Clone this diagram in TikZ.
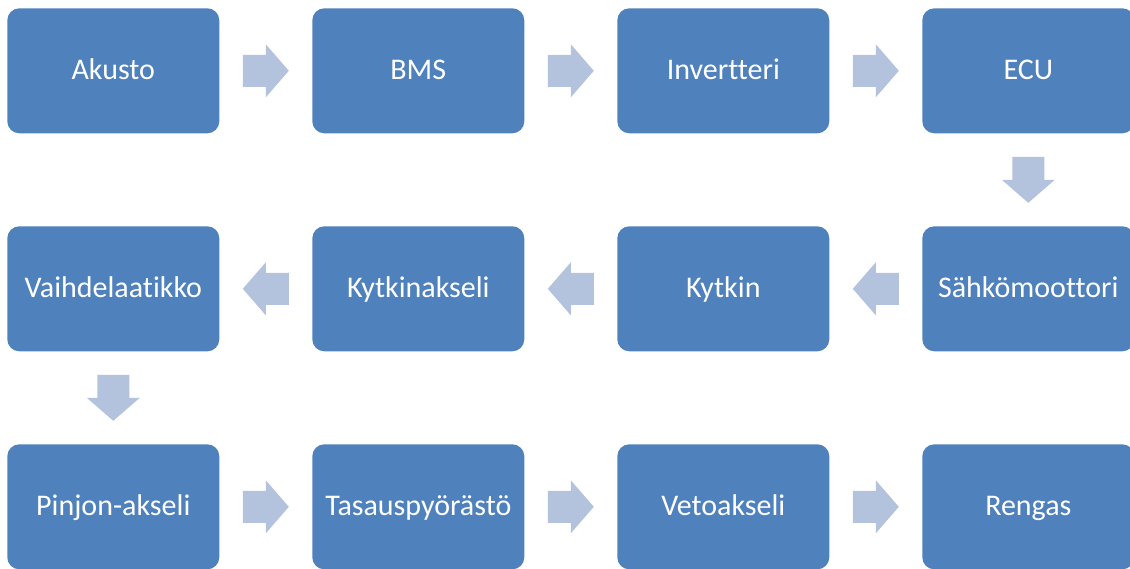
\documentclass[tikz,border=0pt]{standalone}
\usepackage{fontspec}
\setmainfont{Carlito}[Ligatures=NoCommon]
\usetikzlibrary{calc}
\definecolor{boxblue}{HTML}{4F81BD}
\definecolor{arrowblue}{HTML}{B3C2DD}
\tikzset{
  stage/.style={fill=boxblue, draw=none, rounded corners=12pt,
    minimum width=212pt, minimum height=125pt, inner sep=0pt,
    text height=17pt, text depth=0pt,
    text=white, font=\fontsize{30}{34}\selectfont},
  blockarrow/.style={fill=arrowblue, draw=none}
}
% block arrow centred at #2 (head base), pointing in direction #1 (degrees)
\newcommand\flowarrow[2]{%
  \fill[blockarrow, shift={(#2)}, rotate=#1]
    (-23,-16) -- (0,-16) -- (0,-26.5) -- (23,0) -- (0,26.5) -- (0,16) -- (-23,16) -- cycle;}
\begin{document}
\begin{tikzpicture}[x=1pt, y=-1pt]
  \useasboundingbox (0,0) rectangle (1130,568);
  \clip (0,0) rectangle (1130,568);
  % first row
  \node[stage] (akusto)  at (113.3,70.8)  {Akusto};
  \node[stage] (bms)     at (418.3,70.8)  {BMS};
  \node[stage] (inv)     at (723.3,70.8)  {Invertteri};
  \node[stage] (ecu)     at (1028.3,70.8) {ECU};
  % second row
  \node[stage] (vaihde)  at (113.3,288.8)  {Vaihdelaatikko};
  \node[stage] (kakseli) at (418.3,288.8)  {Kytkinakseli};
  \node[stage] (kytkin)  at (723.3,288.8)  {Kytkin};
  \node[stage] (moottori) at (1028.3,288.8) {Sähkömoottori};
  % third row
  \node[stage] (pinjon)  at (113.3,506.8)  {Pinjon-akseli};
  \node[stage] (tasaus)  at (418.3,506.8)  {Tasauspyörästö};
  \node[stage] (veto)    at (723.3,506.8)  {Vetoakseli};
  \node[stage] (rengas)  at (1028.3,506.8) {Rengas};
  % arrows
  \flowarrow{0}{$(akusto.east)!0.5!(bms.west)$}
  \flowarrow{0}{$(bms.east)!0.5!(inv.west)$}
  \flowarrow{0}{$(inv.east)!0.5!(ecu.west)$}
  \flowarrow{-90}{$(ecu.south)!0.5!(moottori.north)$}
  \flowarrow{180}{$(moottori.west)!0.5!(kytkin.east)$}
  \flowarrow{180}{$(kytkin.west)!0.5!(kakseli.east)$}
  \flowarrow{180}{$(kakseli.west)!0.5!(vaihde.east)$}
  \flowarrow{-90}{$(vaihde.south)!0.5!(pinjon.north)$}
  \flowarrow{0}{$(pinjon.east)!0.5!(tasaus.west)$}
  \flowarrow{0}{$(tasaus.east)!0.5!(veto.west)$}
  \flowarrow{0}{$(veto.east)!0.5!(rengas.west)$}
\end{tikzpicture}
\end{document}
